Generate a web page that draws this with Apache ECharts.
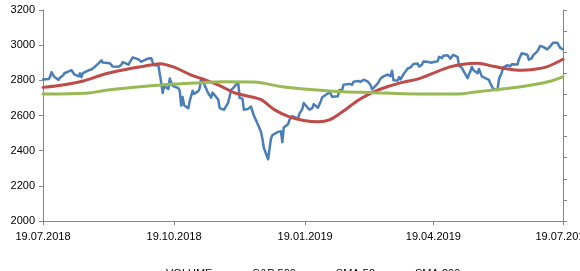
<!DOCTYPE html>
<html>
<head>
<meta charset="utf-8">
<script src="https://cdn.jsdelivr.net/npm/echarts@6/dist/echarts.min.js"></script>
<style>
  html, body { margin: 0; padding: 0; background: #fff; }
  #chart { width: 580px; height: 271px; }
</style>
</head>
<body>
<div id="chart"></div>
<script>
// x axis: every calendar day, labels only on these dates
const tickDates = ['2018-07-19', '2018-10-19', '2019-01-19', '2019-04-19', '2019-07-19'];

// S&P 500 daily closes (trading days)
const spDates = [
  '2018-07-19','2018-07-20','2018-07-23','2018-07-24','2018-07-25','2018-07-26','2018-07-27','2018-07-30','2018-07-31',
  '2018-08-01','2018-08-02','2018-08-03','2018-08-06','2018-08-07','2018-08-08','2018-08-09','2018-08-10','2018-08-13','2018-08-14','2018-08-15','2018-08-16','2018-08-17','2018-08-20','2018-08-21','2018-08-22','2018-08-23','2018-08-24','2018-08-27','2018-08-28','2018-08-29','2018-08-30','2018-08-31',
  '2018-09-04','2018-09-05','2018-09-06','2018-09-07','2018-09-10','2018-09-11','2018-09-12','2018-09-13','2018-09-14','2018-09-17','2018-09-18','2018-09-19','2018-09-20','2018-09-21','2018-09-24','2018-09-25','2018-09-26','2018-09-27','2018-09-28',
  '2018-10-01','2018-10-02','2018-10-03','2018-10-04','2018-10-05','2018-10-08','2018-10-09','2018-10-10','2018-10-11','2018-10-12','2018-10-15','2018-10-16','2018-10-17','2018-10-18','2018-10-19','2018-10-22','2018-10-23','2018-10-24','2018-10-25','2018-10-26','2018-10-29','2018-10-30','2018-10-31',
  '2018-11-01','2018-11-02','2018-11-05','2018-11-06','2018-11-07','2018-11-08','2018-11-09','2018-11-12','2018-11-13','2018-11-14','2018-11-15','2018-11-16','2018-11-19','2018-11-20','2018-11-21','2018-11-23','2018-11-26','2018-11-27','2018-11-28','2018-11-29','2018-11-30',
  '2018-12-03','2018-12-04','2018-12-06','2018-12-07','2018-12-10','2018-12-11','2018-12-12','2018-12-13','2018-12-14','2018-12-17','2018-12-18','2018-12-19','2018-12-20','2018-12-21','2018-12-24','2018-12-26','2018-12-27','2018-12-28','2018-12-31',
  '2019-01-02','2019-01-03','2019-01-04','2019-01-07','2019-01-08','2019-01-09','2019-01-10','2019-01-11','2019-01-14','2019-01-15','2019-01-16','2019-01-17','2019-01-18','2019-01-22','2019-01-23','2019-01-24','2019-01-25','2019-01-28','2019-01-29','2019-01-30','2019-01-31',
  '2019-02-01','2019-02-04','2019-02-05','2019-02-06','2019-02-07','2019-02-08','2019-02-11','2019-02-12','2019-02-13','2019-02-14','2019-02-15','2019-02-19','2019-02-20','2019-02-21','2019-02-22','2019-02-25','2019-02-26','2019-02-27','2019-02-28',
  '2019-03-01','2019-03-04','2019-03-05','2019-03-06','2019-03-07','2019-03-08','2019-03-11','2019-03-12','2019-03-13','2019-03-14','2019-03-15','2019-03-18','2019-03-19','2019-03-20','2019-03-21','2019-03-22','2019-03-25','2019-03-26','2019-03-27','2019-03-28','2019-03-29',
  '2019-04-01','2019-04-02','2019-04-03','2019-04-04','2019-04-05','2019-04-08','2019-04-09','2019-04-10','2019-04-11','2019-04-12','2019-04-15','2019-04-16','2019-04-17','2019-04-18','2019-04-22','2019-04-23','2019-04-24','2019-04-25','2019-04-26','2019-04-29','2019-04-30',
  '2019-05-01','2019-05-02','2019-05-03','2019-05-06','2019-05-07','2019-05-08','2019-05-09','2019-05-10','2019-05-13','2019-05-14','2019-05-15','2019-05-16','2019-05-17','2019-05-20','2019-05-21','2019-05-22','2019-05-23','2019-05-24','2019-05-28','2019-05-29','2019-05-30','2019-05-31',
  '2019-06-03','2019-06-04','2019-06-05','2019-06-06','2019-06-07','2019-06-10','2019-06-11','2019-06-12','2019-06-13','2019-06-14','2019-06-17','2019-06-18','2019-06-19','2019-06-20','2019-06-21','2019-06-24','2019-06-25','2019-06-26','2019-06-27','2019-06-28',
  '2019-07-01','2019-07-02','2019-07-03','2019-07-05','2019-07-08','2019-07-09','2019-07-10','2019-07-11','2019-07-12','2019-07-15','2019-07-16','2019-07-17','2019-07-18','2019-07-19'
];
const spValues = [
  2804.49,2801.83,2806.98,2820.40,2846.07,2837.44,2818.82,2802.60,2816.29,
  2813.36,2827.22,2840.35,2850.40,2858.45,2857.70,2853.58,2833.28,2821.93,2839.96,2818.37,2840.69,2850.13,2857.05,2862.96,2861.82,2856.98,2874.69,2896.74,2897.52,2914.04,2901.13,2901.52,
  2896.72,2888.60,2878.05,2871.68,2877.13,2887.89,2888.92,2904.18,2904.98,2888.80,2904.31,2907.95,2930.75,2929.67,2919.37,2915.56,2905.97,2914.00,2913.98,
  2924.59,2923.43,2925.51,2901.61,2885.57,2884.43,2880.34,2785.68,2728.37,2767.13,2750.79,2809.92,2809.21,2768.78,2767.78,2755.88,2740.69,2656.10,2705.57,2658.69,2641.25,2682.63,2711.74,
  2740.37,2723.06,2738.31,2755.45,2813.89,2806.83,2781.01,2726.22,2722.18,2701.58,2730.20,2736.27,2690.73,2641.89,2649.93,2632.56,2673.45,2682.17,2743.79,2737.80,2760.17,
  2790.37,2700.06,2695.95,2633.08,2637.72,2636.78,2651.07,2650.54,2599.95,2545.94,2546.16,2506.96,2467.42,2416.62,2351.10,2467.70,2488.83,2485.74,2506.85,
  2510.03,2447.89,2531.94,2549.69,2574.41,2584.96,2596.64,2596.26,2582.61,2610.30,2616.10,2635.96,2670.71,2632.90,2638.70,2642.33,2664.76,2643.85,2640.00,2681.05,2704.10,
  2706.53,2724.87,2737.70,2731.61,2706.05,2707.88,2709.80,2744.73,2753.03,2745.73,2775.60,2779.76,2784.70,2774.88,2792.67,2796.11,2793.90,2792.38,2784.49,
  2803.69,2792.81,2789.65,2771.45,2748.93,2743.07,2783.30,2791.52,2810.92,2808.48,2822.48,2832.94,2832.57,2824.23,2854.88,2800.71,2798.36,2818.46,2805.37,2815.44,2834.40,
  2867.19,2867.24,2873.40,2879.39,2892.74,2895.77,2878.20,2888.21,2888.32,2907.41,2905.58,2907.06,2900.45,2905.03,2907.97,2933.68,2927.25,2926.17,2939.88,2943.03,2945.83,
  2923.73,2917.52,2945.64,2932.47,2884.05,2879.42,2870.72,2881.40,2811.87,2834.41,2850.96,2876.32,2859.53,2840.23,2864.36,2856.27,2822.24,2826.06,2802.39,2783.02,2788.86,2752.06,
  2744.45,2803.27,2826.15,2843.49,2873.34,2886.73,2885.72,2879.84,2891.64,2886.98,2889.67,2917.75,2926.46,2954.18,2950.46,2945.35,2917.38,2913.78,2924.92,2941.76,
  2964.33,2973.01,2995.82,2990.41,2975.95,2979.63,2993.07,2999.91,3013.77,3014.30,3004.04,2984.42,2995.11,2976.61
];

// SMA 50
const sma50Dates = ['2018-07-19','2018-08-03','2018-08-17','2018-08-31','2018-09-14','2018-09-28','2018-10-09','2018-10-19','2018-10-31','2018-11-09','2018-11-20','2018-11-30','2018-12-07','2018-12-19','2018-12-28','2019-01-08','2019-01-18','2019-01-28','2019-02-05','2019-02-14','2019-02-25','2019-03-07','2019-03-18','2019-03-29','2019-04-09','2019-04-18','2019-04-30','2019-05-10','2019-05-20','2019-05-31','2019-06-10','2019-06-20','2019-06-28','2019-07-08','2019-07-19'];
const sma50Values = [2760,2775,2798,2835,2860,2880,2895,2875,2830,2805,2770,2730,2715,2690,2635,2592,2572,2565,2575,2620,2685,2730,2765,2790,2810,2838,2875,2892,2897,2880,2865,2858,2862,2878,2920];

// SMA 200
const sma200Dates = ['2018-07-19','2018-08-20','2018-08-31','2018-09-21','2018-10-12','2018-11-02','2018-11-23','2018-12-14','2019-01-04','2019-01-25','2019-02-15','2019-03-08','2019-03-29','2019-04-18','2019-05-10','2019-05-17','2019-05-31','2019-06-14','2019-06-28','2019-07-10','2019-07-19'];
const sma200Values = [2722,2728,2742,2760,2775,2785,2792,2790,2762,2746,2735,2730,2724,2722,2724,2732,2745,2758,2775,2795,2820];

// VOLUME is in the legend but no bars show in the plot
const volumeValues = [];

const axisDates = [];
for (let t = Date.UTC(2018, 6, 19); t <= Date.UTC(2019, 6, 19); t += 86400000) {
    axisDates.push(new Date(t).toISOString().slice(0, 10));
}

const pairs = (ds, vs) => ds.map((d, i) => [d, vs[i]]);
const isTick = (i, v) => tickDates.includes(v);
const font = '"Liberation Sans", Arial, sans-serif';
const axisGray = '#868686';

const myChart = echarts.init(document.getElementById('chart'));
myChart.setOption({
    animation: false,
    textStyle: { fontFamily: font },
    grid: { left: 43, right: 17, top: 10, bottom: 50, outerBoundsMode: 'none', containLabel: false },
    legend: {
        left: 131, top: 263,
        itemWidth: 25, itemHeight: 5, itemGap: 9,
        textStyle: { fontSize: 11, color: '#000', fontFamily: font },
        lineStyle: { width: 2 },
        data: [
            { name: 'VOLUME', icon: 'rect' },
            { name: 'S&P 500' },
            { name: 'SMA 50' },
            { name: 'SMA 200' }
        ]
    },
    xAxis: {
        type: 'category',
        data: axisDates,
        boundaryGap: false,
        axisLine: { lineStyle: { color: axisGray, width: 1 } },
        axisTick: { interval: isTick, length: 4, lineStyle: { color: axisGray } },
        axisLabel: {
            interval: isTick, margin: 10, fontSize: 11, color: '#000',
            hideOverlap: false,
            formatter: v => v.slice(8, 10) + '.' + v.slice(5, 7) + '.' + v.slice(0, 4)
        },
        splitLine: { show: false }
    },
    yAxis: [{
        type: 'value', min: 2000, max: 3200, interval: 200,
        axisLine: { show: true, lineStyle: { color: axisGray } },
        axisTick: { show: true, length: 4, lineStyle: { color: axisGray } },
        axisLabel: { fontSize: 11, color: '#000', margin: 8, formatter: v => String(v) },
        splitLine: { show: false }
    }, {
        type: 'value', position: 'right', min: 0, max: 10, interval: 1,
        axisLine: { show: true, lineStyle: { color: axisGray } },
        axisTick: { show: true, length: 4, lineStyle: { color: axisGray } },
        axisLabel: { show: false },
        splitLine: { show: false }
    }],
    series: [{
        name: 'VOLUME', type: 'bar', yAxisIndex: 1,
        itemStyle: { color: '#8064A2' },
        data: volumeValues
    }, {
        name: 'S&P 500', type: 'line', symbol: 'none',
        lineStyle: { color: '#4A7EBB', width: 2.5, join: 'round', cap: 'round' },
        itemStyle: { color: '#4A7EBB' },
        data: pairs(spDates, spValues)
    }, {
        name: 'SMA 50', type: 'line', symbol: 'none', smooth: 0.3,
        lineStyle: { color: '#BE4B48', width: 3, cap: 'round' },
        itemStyle: { color: '#BE4B48' },
        data: pairs(sma50Dates, sma50Values)
    }, {
        name: 'SMA 200', type: 'line', symbol: 'none', smooth: 0.3,
        lineStyle: { color: '#98B954', width: 3, cap: 'round' },
        itemStyle: { color: '#98B954' },
        data: pairs(sma200Dates, sma200Values)
    }]
});
window.addEventListener('resize', () => myChart.resize());
</script>
</body>
</html>
